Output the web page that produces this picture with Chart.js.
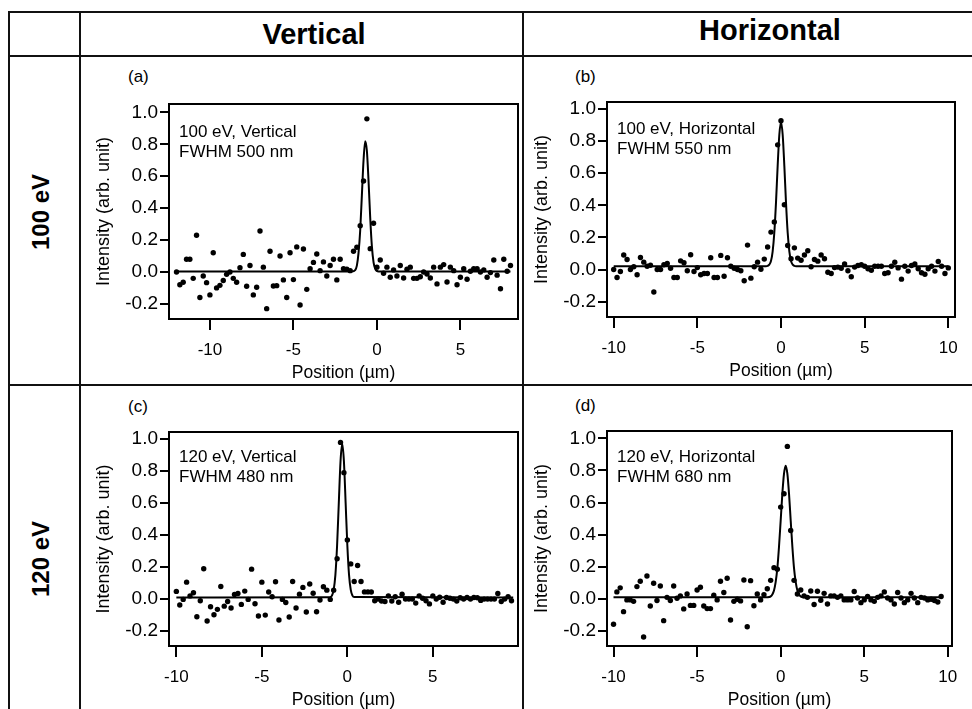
<!DOCTYPE html>
<html>
<head>
<meta charset="utf-8">
<script src="https://cdn.jsdelivr.net/npm/chart.js@4.4.1/dist/chart.umd.min.js"></script>
<style>
  body { margin: 0; width: 972px; height: 709px; overflow: hidden; background: #fff; position: relative;
         font-family: "Liberation Sans", Arial, sans-serif; color: #000; }
  .ln { position: absolute; background: #111; }
  .t { position: absolute; white-space: nowrap; line-height: 1; }
  .hd { font-weight: bold; font-size: 29px; text-align: center; width: 240px; }
  .row { font-weight: bold; font-size: 24px; transform: translate(-50%, -50%) rotate(-90deg); }
  .tag { font-size: 17px; }
  .panel { position: absolute; }
</style>
</head>
<body>
<!-- table lines -->
<div class="ln" style="left:8px;top:11px;width:964px;height:2px"></div>
<div class="ln" style="left:8px;top:55px;width:964px;height:2px"></div>
<div class="ln" style="left:8px;top:384px;width:964px;height:2px"></div>
<div class="ln" style="left:8px;top:11px;width:2px;height:698px"></div>
<div class="ln" style="left:79px;top:11px;width:2px;height:698px"></div>
<div class="ln" style="left:522px;top:11px;width:2px;height:698px"></div>

<div class="t hd" style="left:194px;top:20px">Vertical</div>
<div class="t hd" style="left:650px;top:16px">Horizontal</div>
<div class="t row" style="left:41px;top:212px">100 eV</div>
<div class="t row" style="left:41px;top:559px">120 eV</div>

<div class="t tag" style="left:128px;top:68px">(a)</div>
<div class="t tag" style="left:575px;top:68px">(b)</div>
<div class="t tag" style="left:128px;top:398px">(c)</div>
<div class="t tag" style="left:575px;top:397px">(d)</div>

<script>
// measured points, 0.2 µm steps
const posA = [-12.0,-11.8,-11.6,-11.4,-11.2,-11.0,-10.8,-10.6,-10.4,-10.2,
  -10.0,-9.8,-9.6,-9.4,-9.2,-9.0,-8.8,-8.6,-8.4,-8.2,
  -8.0,-7.8,-7.6,-7.4,-7.2,-7.0,-6.8,-6.6,-6.4,-6.2,
  -6.0,-5.8,-5.6,-5.4,-5.2,-5.0,-4.8,-4.6,-4.4,-4.2,
  -4.0,-3.8,-3.6,-3.4,-3.2,-3.0,-2.8,-2.6,-2.4,-2.2,
  -2.0,-1.8,-1.6,-1.4,-1.2,-1.0,-0.8,-0.6,-0.4,-0.2,
  0.0,0.2,0.4,0.6,0.8,1.0,1.2,1.4,1.6,1.8,
  2.0,2.2,2.4,2.6,2.8,3.0,3.2,3.4,3.6,3.8,
  4.0,4.2,4.4,4.6,4.8,5.0,5.2,5.4,5.6,5.8,
  6.0,6.2,6.4,6.6,6.8,7.0,7.2,7.4,7.6,7.8,
  8.0];
const intA = [0.0,-0.08,-0.065,0.08,0.08,-0.04,0.23,-0.16,-0.025,-0.067,
  -0.144,0.12,-0.10,-0.084,-0.054,-0.015,0.0,-0.04,-0.065,0.027,
  0.11,-0.09,0.04,-0.144,-0.096,0.257,0.03,-0.23,0.13,-0.088,
  -0.086,0.10,-0.05,-0.16,0.12,-0.048,0.157,-0.207,0.144,-0.109,
  0.02,0.06,0.113,0.008,0.063,-0.025,0.04,0.08,-0.05,0.08,
  0.02,0.017,0.008,0.13,0.155,0.29,0.57,0.96,0.146,0.305,
  0.03,0.075,-0.008,0.03,-0.033,0.013,-0.025,0.04,-0.038,0.017,
  0.03,-0.04,-0.04,-0.03,0.0,-0.013,-0.038,0.03,-0.075,0.03,
  0.046,-0.063,0.03,0.008,-0.08,-0.033,0.02,-0.046,0.004,0.02,
  0.02,0.0,0.013,-0.033,-0.004,0.075,-0.02,-0.105,0.08,0.004,
  0.04];

const posB = [-10.0,-9.8,-9.6,-9.4,-9.2,-9.0,-8.8,-8.6,-8.4,-8.2,
  -8.0,-7.8,-7.6,-7.4,-7.2,-7.0,-6.8,-6.6,-6.4,-6.2,
  -6.0,-5.8,-5.6,-5.4,-5.2,-5.0,-4.8,-4.6,-4.4,-4.2,
  -4.0,-3.8,-3.6,-3.4,-3.2,-3.0,-2.8,-2.6,-2.4,-2.2,
  -2.0,-1.8,-1.6,-1.4,-1.2,-1.0,-0.8,-0.6,-0.4,-0.2,
  0.0,0.2,0.4,0.6,0.8,1.0,1.2,1.4,1.6,1.8,
  2.0,2.2,2.4,2.6,2.8,3.0,3.2,3.4,3.6,3.8,
  4.0,4.2,4.4,4.6,4.8,5.0,5.2,5.4,5.6,5.8,
  6.0,6.2,6.4,6.6,6.8,7.0,7.2,7.4,7.6,7.8,
  8.0,8.2,8.4,8.6,8.8,9.0,9.2,9.4,9.6,9.8,
  10.0];
const intB = [0.0,-0.05,-0.012,0.09,0.062,0.0,0.017,-0.033,0.075,0.046,
  0.02,0.027,-0.14,0.0,0.0,0.03,0.037,0.008,-0.05,-0.05,
  0.054,0.042,-0.008,0.092,-0.012,0.012,-0.033,-0.025,-0.025,0.073,
  -0.05,-0.05,0.088,-0.042,0.073,0.02,0.008,0.0,-0.008,-0.07,
  0.152,-0.054,0.017,0.046,0.002,0.065,0.14,0.233,0.296,0.777,
  0.927,0.404,0.15,0.067,0.135,0.071,0.058,0.09,0.117,0.017,
  0.062,0.052,0.09,0.067,-0.017,-0.025,0.012,0.015,0.008,0.035,
  -0.008,-0.045,0.015,0.025,0.03,0.02,0.005,-0.005,0.02,0.02,
  0.02,-0.025,-0.02,0.02,0.045,0.01,-0.06,0.02,-0.01,0.025,
  0.035,0.005,-0.02,-0.03,0.005,0.02,-0.01,0.05,0.02,-0.025,
  0.01];

const posCD = [-10.0,-9.8,-9.6,-9.4,-9.2,-9.0,-8.8,-8.6,-8.4,-8.2,
  -8.0,-7.8,-7.6,-7.4,-7.2,-7.0,-6.8,-6.6,-6.4,-6.2,
  -6.0,-5.8,-5.6,-5.4,-5.2,-5.0,-4.8,-4.6,-4.4,-4.2,
  -4.0,-3.8,-3.6,-3.4,-3.2,-3.0,-2.8,-2.6,-2.4,-2.2,
  -2.0,-1.8,-1.6,-1.4,-1.2,-1.0,-0.8,-0.6,-0.4,-0.2,
  0.0,0.2,0.4,0.6,0.8,1.0,1.2,1.4,1.6,1.8,
  2.0,2.2,2.4,2.6,2.8,3.0,3.2,3.4,3.6,3.8,
  4.0,4.2,4.4,4.6,4.8,5.0,5.2,5.4,5.6,5.8,
  6.0,6.2,6.4,6.6,6.8,7.0,7.2,7.4,7.6,7.8,
  8.0,8.2,8.4,8.6,8.8,9.0,9.2,9.4,9.6];
const intC = [0.048,-0.037,-0.002,0.106,0.02,0.04,-0.11,-0.01,0.19,-0.137,
  -0.048,-0.098,-0.064,0.079,-0.044,-0.015,-0.056,0.029,0.035,-0.033,
  0.05,-0.002,0.187,-0.029,-0.106,0.106,-0.1,0.044,0.015,0.108,
  -0.131,-0.002,-0.021,-0.112,0.11,-0.056,0.031,0.073,-0.081,0.094,
  0.037,-0.079,-0.006,0.077,0.056,-0.002,0.056,0.252,0.979,0.79,
  0.37,0.22,0.11,0.21,0.11,0.045,0.045,0.044,-0.01,0.0,
  -0.012,-0.015,0.02,-0.012,0.015,-0.02,0.03,0.0,0.0,0.0,
  -0.025,0.02,0.005,-0.01,-0.03,0.02,0.0,0.012,-0.02,0.01,
  0.005,0.0,-0.012,0.008,0.0,0.01,0.0,0.01,0.008,-0.008,
  0.0,0.0,0.0,0.0,0.035,-0.015,0.0,0.015,-0.01];
const intD = [-0.158,0.044,0.069,-0.079,-0.006,-0.006,-0.015,0.077,0.11,-0.237,
  0.143,-0.044,0.098,-0.01,0.081,-0.135,0.01,-0.01,0.081,0.004,
  0.019,-0.062,0.031,-0.04,-0.04,0.056,0.073,-0.044,-0.06,-0.06,
  0.023,-0.006,0.11,0.04,0.129,-0.131,-0.015,-0.002,-0.012,0.118,
  -0.173,0.114,-0.042,0.031,-0.006,0.027,0.064,0.116,0.195,0.185,
  0.572,0.655,0.95,0.426,0.116,0.031,0.056,0.019,0.01,0.05,
  -0.035,0.048,-0.008,0.035,-0.031,0.019,0.019,0.01,0.019,-0.006,
  -0.006,-0.006,0.046,0.006,-0.023,-0.006,0.015,-0.006,-0.015,0.01,
  0.019,0.044,0.006,-0.006,-0.031,0.04,0.006,-0.023,-0.006,0.035,
  0.006,-0.023,0.01,0.006,-0.006,-0.002,-0.01,-0.019,0.015];

// fitted curves
const fitXA = [-12.0,-1.5,-1.3,-1.2,-1.1,-1.0,-0.9,-0.8,-0.7,-0.6,-0.5,-0.4,-0.3,-0.2,-0.1,0.1,8.0];
const fitYA = [0.003,0.003,0.012,0.04,0.12,0.26,0.48,0.70,0.82,0.76,0.57,0.34,0.16,0.06,0.02,0.003,0.003];
const fitXB = [-10.0,-0.9,-0.8,-0.7,-0.6,-0.5,-0.4,-0.3,-0.2,-0.1,0.0,0.1,0.2,0.3,0.4,0.5,0.6,0.7,0.8,0.9,10.0];
const fitYB = [0.02,0.021,0.023,0.03,0.053,0.112,0.229,0.415,0.645,0.84,0.92,0.84,0.645,0.415,0.229,0.112,0.053,0.03,0.023,0.021,0.02];
const fitXC = [-10.0,-1.1,-1.0,-0.9,-0.8,-0.7,-0.6,-0.5,-0.4,-0.3,-0.2,-0.1,0.0,0.1,0.2,0.3,0.4,9.7];
const fitYC = [0.01,0.011,0.013,0.022,0.058,0.15,0.335,0.60,0.86,0.97,0.86,0.60,0.335,0.15,0.058,0.022,0.013,0.01];
const fitXD = [-10.0,-0.8,-0.7,-0.6,-0.5,-0.4,-0.3,-0.2,-0.1,0.0,0.1,0.2,0.3,0.4,0.5,0.6,0.7,0.8,0.9,1.0,1.1,1.2,1.3,1.4,9.6];
const fitYD = [0.01,0.01,0.012,0.016,0.028,0.053,0.105,0.19,0.325,0.488,0.655,0.78,0.83,0.78,0.655,0.488,0.325,0.19,0.105,0.053,0.028,0.016,0.012,0.01,0.01];

const notes = {
  pa: ["100 eV, Vertical", "FWHM 500 nm"],
  pb: ["100 eV, Horizontal", "FWHM 550 nm"],
  pc: ["120 eV, Vertical", "FWHM 480 nm"],
  pd: ["120 eV, Horizontal", "FWHM 680 nm"],
};

Chart.defaults.font.family = '"Liberation Sans", Arial, sans-serif';
Chart.defaults.color = "#000";

const Y_W = 79;   // y axis box width
const X_H = 69;   // x axis box height

// box around the plot area plus the two-line note
const framePlugin = {
  id: "frame",
  afterDatasetsDraw(chart, args, opts) {
    const { ctx, chartArea: a } = chart;
    ctx.save();
    ctx.strokeStyle = "#000";
    ctx.lineWidth = 2;
    ctx.strokeRect(a.left, a.top, a.right - a.left, a.bottom - a.top);
    ctx.fillStyle = "#000";
    ctx.font = '17px "Liberation Sans", Arial, sans-serif';
    opts.lines.forEach((s, i) => ctx.fillText(s, a.left + 10, a.top + opts.y + i * 20));
    ctx.restore();
  },
};

function pts(xs, ys) {
  return xs.map((x, i) => ({ x: x, y: ys[i] }));
}

function makePanel(p) {
  const left = p.frame.l - Y_W, top = p.frame.t - 6;
  const w = p.frame.r + 5 - left, h = p.frame.b + X_H - top;
  const div = document.createElement("div");
  div.className = "panel";
  div.style.cssText = `left:${left}px;top:${top}px;width:${w}px;height:${h}px`;
  div.innerHTML = `<canvas id="${p.id}" width="${w}" height="${h}"></canvas>`;
  document.body.appendChild(div);

  const axisCommon = {
    type: "linear",
    border: { display: true, color: "#000", width: 2 },
  };

  new Chart(document.getElementById(p.id).getContext("2d"), {
    type: "scatter",
    data: {
      datasets: [
        {
          data: pts(p.fx, p.fy),
          showLine: true,
          borderColor: "#000",
          borderWidth: 2,
          pointRadius: 0,
          cubicInterpolationMode: "monotone",
        },
        {
          data: pts(p.x, p.y),
          backgroundColor: "#000",
          borderWidth: 0,
          pointRadius: 2.7,
        },
      ],
    },
    options: {
      responsive: false,
      animation: false,
      layout: { padding: { left: 0, top: 6, right: 5, bottom: 0 } },
      plugins: {
        legend: { display: false },
        tooltip: { enabled: false },
        frame: { lines: notes[p.id], y: p.noteY },
      },
      scales: {
        x: {
          ...axisCommon,
          min: p.xr[0],
          max: p.xr[1],
          afterFit: (s) => { s.height = X_H; s.paddingLeft = 0; s.paddingRight = 0; },
          grid: { drawOnChartArea: false, drawTicks: true, tickLength: 11, color: "#000", lineWidth: 2 },
          ticks: { stepSize: 5, includeBounds: false, padding: 10, font: { size: 17 }, callback: (v) => String(v) },
          title: { display: true, text: "Position (µm)", font: { size: 17.5 }, padding: { top: 0, bottom: 4 } },
        },
        y: {
          ...axisCommon,
          min: p.yr[0],
          max: p.yr[1],
          afterFit: (s) => { s.width = Y_W; s.paddingTop = 0; s.paddingBottom = 0; },
          grid: { drawOnChartArea: false, drawTicks: true, tickLength: 9, color: "#000", lineWidth: 2 },
          ticks: { stepSize: 0.2, includeBounds: false, padding: 2, font: { size: 19 }, callback: (v) => v.toFixed(1) },
          title: { display: true, text: "Intensity (arb. unit)", font: { size: 18 }, padding: { top: 3, bottom: 0 } },
        },
      },
    },
    plugins: [framePlugin],
  });
}

makePanel({ id: "pa", frame: { l: 169, r: 518, t: 104, b: 319 }, xr: [-12.45, 8.45], yr: [-0.295, 1.053],
  x: posA, y: intA, fx: fitXA, fy: fitYA, noteY: 33 });
makePanel({ id: "pb", frame: { l: 607, r: 955, t: 102, b: 317 }, xr: [-10.4, 10.4], yr: [-0.296, 1.044],
  x: posB, y: intB, fx: fitXB, fy: fitYB, noteY: 32 });
makePanel({ id: "pc", frame: { l: 169, r: 518, t: 432, b: 646 }, xr: [-10.43, 9.98], yr: [-0.293, 1.044],
  x: posCD, y: intC, fx: fitXC, fy: fitYC, noteY: 30 });
makePanel({ id: "pd", frame: { l: 607, r: 952, t: 431, b: 646 }, xr: [-10.39, 10.25], yr: [-0.293, 1.046],
  x: posCD, y: intD, fx: fitXD, fy: fitYD, noteY: 31 });
</script>
</body>
</html>
